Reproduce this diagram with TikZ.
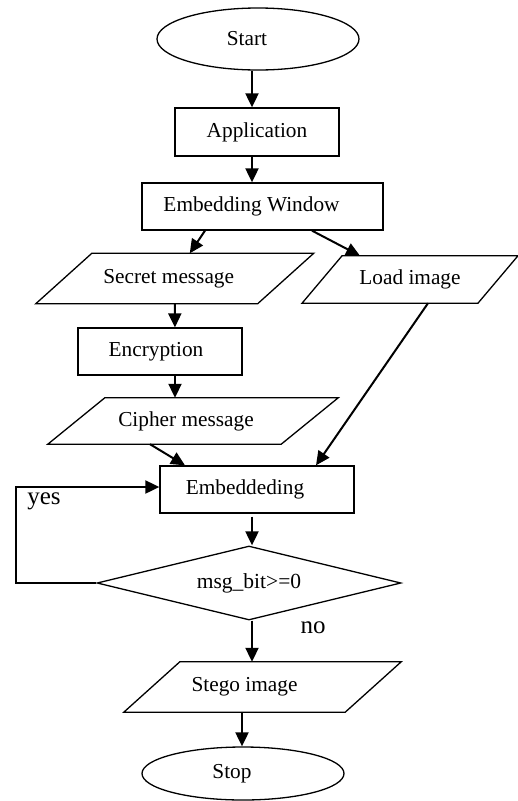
\documentclass[tikz,border=0pt]{standalone}
\usepackage{fontspec}
\setmainfont{Liberation Serif}
\usepackage{tikz}
\usetikzlibrary{shapes.geometric,arrows.meta}

% slanted outline round a named node: #1 node, #2 half of the slant
\newcommand{\slantbox}[2]{%
  \draw[outline] ([xshift=#2]#1.north west) -- ([xshift=#2]#1.north east)
    -- ([xshift=-#2]#1.south east) -- ([xshift=-#2]#1.south west) -- cycle;}

\begin{document}
\begin{tikzpicture}[x=1pt,y=-1pt,
    outline/.style={line width=1.3pt, line join=miter},
    nudge/.style={execute at begin node={\hspace*{-#1pt}}},
    term/.style={outline, draw, shape=ellipse, inner sep=0pt, minimum width=202, font=\fontsize{21.3}{25}\selectfont},
    proc/.style={outline, draw, rectangle, inner sep=0pt, minimum height=47, font=\fontsize{21.3}{25}\selectfont},
    io/.style={rectangle, inner sep=0pt, font=\fontsize{21.3}{25}\selectfont},
    test/.style={outline, draw, shape=diamond, inner sep=0pt, aspect=4, minimum width=304, minimum height=74, font=\fontsize{21.5}{25}\selectfont},
    flow/.style={line width=2pt, -{Triangle[length=14pt,width=13pt]}},
    answer/.style={font=\fontsize{25}{30}\selectfont}]
    \useasboundingbox (0,0) rectangle (518,801);
    %
    \node[term, minimum height=62, nudge=22] (start) at (258,39) {Start};
    \node[proc, minimum width=164, minimum height=48] (app) at (257,132) {Application};
    \node[proc, minimum width=241, nudge=22] (ew) at (262.5,206.5) {Embedding Window};
    \node[io, minimum width=221.5, minimum height=50, nudge=12] (sm) at (174.75,278.5) {Secret message};
    \slantbox{sm}{28}
    \node[io, minimum width=175.5, minimum height=47] (load) at (410,279.5) {Load image};
    \slantbox{load}{20}
    \node[proc, minimum width=164, nudge=8] (enc) at (160,351.5) {Encryption};
    \node[io, minimum width=233, minimum height=46, nudge=14] (cm) at (193,421) {Cipher message};
    \slantbox{cm}{28.5}
    \node[proc, minimum width=194, nudge=24] (emb) at (257,489.5) {Embeddeding};
    \node[test] (bit) at (249,583) {msg\_bit>=0};
    \node[io, minimum width=221, minimum height=50, nudge=36] (stego) at (262.5,687) {Stego image};
    \slantbox{stego}{28}
    \node[term, minimum height=53, nudge=22] (stop) at (243,773.5) {Stop};
    \coordinate (back) at (16,487);
    %
    \draw[flow] ([xshift=-6]start.south) -- ([xshift=-5]app.north);
    \draw[flow] ([xshift=-5]app.south) -- ([xshift=-10.5]ew.north);
    \draw[flow] ([xshift=-57.5]ew.south) -- ([xshift=15]sm.north);
    \draw[flow] ([xshift=49.5]ew.south) -- ([xshift=-50]load.north);
    \draw[flow] (sm.south) -- ([xshift=15]enc.north);
    \draw[flow] ([xshift=15]enc.south) -- ([xshift=-18]cm.north);
    \draw[flow] ([xshift=-43]cm.south) -- ([xshift=-72]emb.north);
    \draw[flow] ([xshift=18]load.south) -- ([xshift=59]emb.north);
    \draw[flow] ([xshift=-5,yshift=-3]emb.south) -- ([xshift=3]bit.north);
    \draw[flow] ([xshift=3]bit.south) -- ([xshift=-10.5]stego.north);
    \draw[flow] ([xshift=-20.5]stego.south) -- ([xshift=-1]stop.north);
    \draw[flow] (bit.west) -| (back) -- (back -| emb.west);
    %
    \node[answer] (yes) at (44,501) {yes};
    \node[answer] (no) at (313,628) {no};
\end{tikzpicture}
\end{document}
